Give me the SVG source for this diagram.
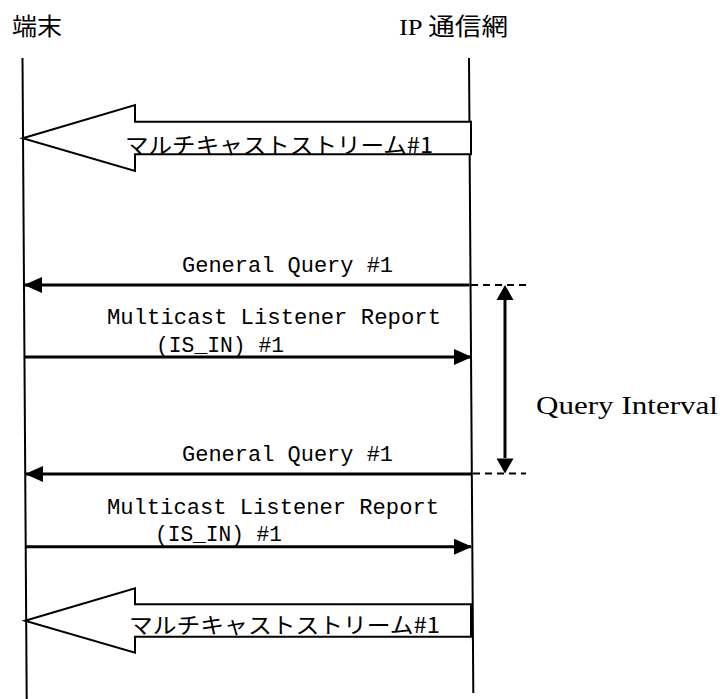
<svg xmlns="http://www.w3.org/2000/svg" width="724" height="699" viewBox="0 0 724 699">
<style>
.life{stroke:#000;stroke-width:2;fill:none}
.big{stroke:#000;stroke-width:2;fill:#fff;stroke-linejoin:miter}
.msg{stroke:#000;stroke-width:3;fill:none}
.dash{stroke:#000;stroke-width:2;stroke-dasharray:7,5;fill:none}
.jp{font-family:"Noto Sans CJK JP","Liberation Serif",serif;font-size:22px;fill:#000}
.hd{font-family:"Liberation Serif","Noto Sans CJK JP",serif;font-size:24px;fill:#000}
.mono{font-family:"Liberation Mono","DejaVu Sans Mono",monospace;font-size:22px;fill:#000}
.serif{font-family:"Liberation Serif","DejaVu Serif",serif;font-size:25px;fill:#000}
</style>
<defs>
<marker id="ah" viewBox="0 0 18 16" refX="17" refY="8" markerWidth="18" markerHeight="16" markerUnits="userSpaceOnUse" orient="auto-start-reverse">
<path d="M0,0 L18,8 L0,16 Z" fill="#000"/>
</marker>
</defs>
<g id="terminal">
<text class="hd" x="12" y="35" textLength="50" lengthAdjust="spacingAndGlyphs">端末</text>
<line class="life" x1="22.5" y1="58" x2="26.7" y2="699"/>
</g>
<g id="ipnet">
<text class="hd" x="399" y="35" textLength="109" lengthAdjust="spacingAndGlyphs">IP 通信網</text>
<line class="life" x1="469" y1="58" x2="473.3" y2="693"/>
</g>
<g id="connectors">
<g id="stream1">
<path class="big" d="M22.7,138.3 L135,105 L135,121.7 L471,121.7 L471,154.3 L135,154.3 L135,171 Z"/>
<text class="jp" x="125" y="153" textLength="308" lengthAdjust="spacingAndGlyphs">マルチキャストストリーム#1</text>
</g>
<g id="gq1">
<line class="msg" x1="469.5" y1="285" x2="25" y2="285" marker-end="url(#ah)"/>
<text class="mono" x="182" y="272" textLength="211" lengthAdjust="spacingAndGlyphs">General Query #1</text>
</g>
<g id="mlr1">
<line class="msg" x1="24" y1="357" x2="471" y2="357" marker-end="url(#ah)"/>
<text class="mono" x="107" y="324" textLength="334" lengthAdjust="spacingAndGlyphs">Multicast Listener Report</text>
<text class="mono" x="156" y="352" textLength="128" lengthAdjust="spacingAndGlyphs">(IS_IN) #1</text>
</g>
<g id="gq2">
<line class="msg" x1="472" y1="474" x2="26" y2="474" marker-end="url(#ah)"/>
<text class="mono" x="182" y="461" textLength="211" lengthAdjust="spacingAndGlyphs">General Query #1</text>
</g>
<g id="mlr2">
<line class="msg" x1="25.5" y1="546.7" x2="471" y2="546.7" marker-end="url(#ah)"/>
<text class="mono" x="107" y="514" textLength="332" lengthAdjust="spacingAndGlyphs">Multicast Listener Report</text>
<text class="mono" x="155" y="541" textLength="127" lengthAdjust="spacingAndGlyphs">(IS_IN) #1</text>
</g>
<g id="stream2">
<path class="big" d="M25,620.7 L135,588.3 L135,604.3 L471,604.3 L471,636.7 L135,636.7 L135,652.7 Z"/>
<text class="jp" x="129" y="633" textLength="311" lengthAdjust="spacingAndGlyphs">マルチキャストストリーム#1</text>
</g>
<g id="interval">
<line class="dash" x1="471" y1="285" x2="526" y2="285"/>
<line class="dash" x1="473" y1="473.5" x2="526" y2="473.5"/>
<line class="msg" x1="505" y1="300" x2="505" y2="458"/>
<path d="M505,285 L513.5,300 L496.5,300 Z" fill="#000"/>
<path d="M505,473.5 L513.5,458.5 L496.5,458.5 Z" fill="#000"/>
<text class="serif" x="536" y="414" textLength="182" lengthAdjust="spacingAndGlyphs">Query Interval</text>
</g>
</g>
</svg>
